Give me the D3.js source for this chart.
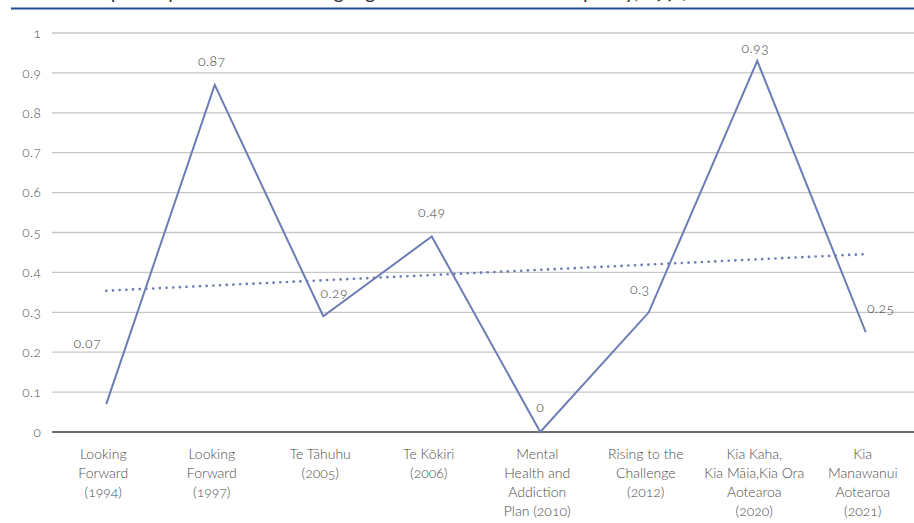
<!DOCTYPE html>
<html>
<head>
<meta charset="utf-8">
<script src="https://cdn.jsdelivr.net/npm/d3@7"></script>
<style>
    html, body { margin: 0; padding: 0; background: #fff; }
    svg { display: block; font-family: Lato, "Open Sans", sans-serif; font-feature-settings: "onum" 1; }
    .tick-label { fill: #4d4d4d; font-size: 13.5px; font-weight: 300; letter-spacing: 0.3px; }
    .cat-label { fill: #4d4d4d; font-size: 14px; font-weight: 300; }
    .data-label { fill: #3d3d3d; font-size: 14px; font-weight: 300; letter-spacing: 0.4px; }
</style>
</head>
<body>
<svg id="chart" width="914" height="523"></svg>
<script>
// chart data
var titleText = 'Relative depth of person-centred language in each mental health policy, 1994\u20132021';
var categories = [
    ['Looking', 'Forward', '(1994)'],
    ['Looking', 'Forward', '(1997)'],
    ['Te T\u0101huhu', '(2005)'],
    ['Te K\u014dkiri', '(2006)'],
    ['Mental', 'Health and', 'Addiction', 'Plan (2010)'],
    ['Rising to the', 'Challenge', '(2012)'],
    ['Kia Kaha,', 'Kia M\u0101ia,Kia Ora', 'Aotearoa', '(2020)'],
    ['Kia', 'Manawanui', 'Aotearoa', '(2021)']
];
var values = [0.07, 0.87, 0.29, 0.49, 0, 0.3, 0.93, 0.25];
var valueLabels = ['0.07', '0.87', '0.29', '0.49', '0', '0.3', '0.93', '0.25'];
var yTicks = [0, 0.1, 0.2, 0.3, 0.4, 0.5, 0.6, 0.7, 0.8, 0.9, 1];
var yTickLabels = ['0', '0.1', '0.2', '0.3', '0.4', '0.5', '0.6', '0.7', '0.8', '0.9', '1'];

var lineColor = '#6b7db4';

// where each data label sits relative to its point (px)
var labelOffsets = [[-19, -61], [-3, -24], [11, -23], [0, -24], [0, -25], [-9, -23], [-2, -13], [15, -24]];

var svg = d3.select('#chart');

// title, mostly above the top edge: only its descenders show
svg.append('text')
    .attr('x', 14)
    .attr('y', -1)
    .attr('font-size', '20px')
    .attr('fill', '#333')
    .text(titleText);

svg.append('line')
    .attr('x1', 11).attr('x2', 914)
    .attr('y1', 8.5).attr('y2', 8.5)
    .attr('stroke', '#1f4e8d')
    .attr('stroke-width', 2);

var idx = d3.range(categories.length);
var x = d3.scalePoint()
    .domain(idx)
    .range([52, 920])
    .padding(0.5);

var y = d3.scaleLinear()
    .domain([0, 1])
    .range([432, 33]);

// gridlines
svg.append('g')
    .selectAll('line')
    .data(yTicks.filter(function(t) { return t > 0; }))
    .enter().append('line')
    .attr('x1', 52).attr('x2', 914)
    .attr('y1', function(d) { return y(d); })
    .attr('y2', function(d) { return y(d); })
    .attr('stroke', '#c6c6c6')
    .attr('stroke-width', 1.3);

// y tick labels
svg.append('g')
    .selectAll('text')
    .data(yTicks)
    .enter().append('text')
    .attr('class', 'tick-label')
    .attr('x', 41)
    .attr('y', function(d) { return y(d); })
    .attr('dy', '0.35em')
    .attr('text-anchor', 'end')
    .text(function(d, i) { return yTickLabels[i]; });

// x axis line
svg.append('line')
    .attr('x1', 52).attr('x2', 914)
    .attr('y1', y(0)).attr('y2', y(0))
    .attr('stroke', '#6e6e6e')
    .attr('stroke-width', 1.8);

// category labels
var cat = svg.append('g')
    .selectAll('text')
    .data(categories)
    .enter().append('text')
    .attr('class', 'cat-label')
    .attr('text-anchor', 'middle')
    .attr('x', function(d, i) { return x(i) - 3; })
    .attr('y', 454);

cat.selectAll('tspan')
    .data(function(d) { return d; })
    .enter().append('tspan')
    .attr('x', function() { return d3.select(this.parentNode).attr('x'); })
    .attr('dy', function(d, i) { return i === 0 ? '0.35em' : '19px'; })
    .text(function(d) { return d; });

// linear trend line from the series
var n = values.length;
var meanX = d3.mean(idx), meanY = d3.mean(values);
var sxy = d3.sum(idx, function(i) { return (i - meanX) * (values[i] - meanY); });
var sxx = d3.sum(idx, function(i) { return (i - meanX) * (i - meanX); });
var slope = sxy / sxx;
var trend = function(i) { return meanY + slope * (i - meanX); };

svg.append('line')
    .attr('x1', x(0)).attr('y1', y(trend(0)))
    .attr('x2', x(n - 1)).attr('y2', y(trend(n - 1)))
    .attr('stroke', lineColor)
    .attr('stroke-width', 2.6)
    .attr('stroke-linecap', 'round')
    .attr('stroke-dasharray', '0.1 6.6');

// series line
var line = d3.line()
    .x(function(d, i) { return x(i); })
    .y(function(d) { return y(d); });

svg.append('path')
    .datum(values)
    .attr('d', line)
    .attr('fill', 'none')
    .attr('stroke', lineColor)
    .attr('stroke-width', 2);

// data labels
svg.append('g')
    .selectAll('text')
    .data(values)
    .enter().append('text')
    .attr('class', 'data-label')
    .attr('text-anchor', 'middle')
    .attr('x', function(d, i) { return x(i) + labelOffsets[i][0]; })
    .attr('y', function(d, i) { return y(d) + labelOffsets[i][1]; })
    .attr('dy', '0.35em')
    .text(function(d, i) { return valueLabels[i]; });
</script>
</body>
</html>
